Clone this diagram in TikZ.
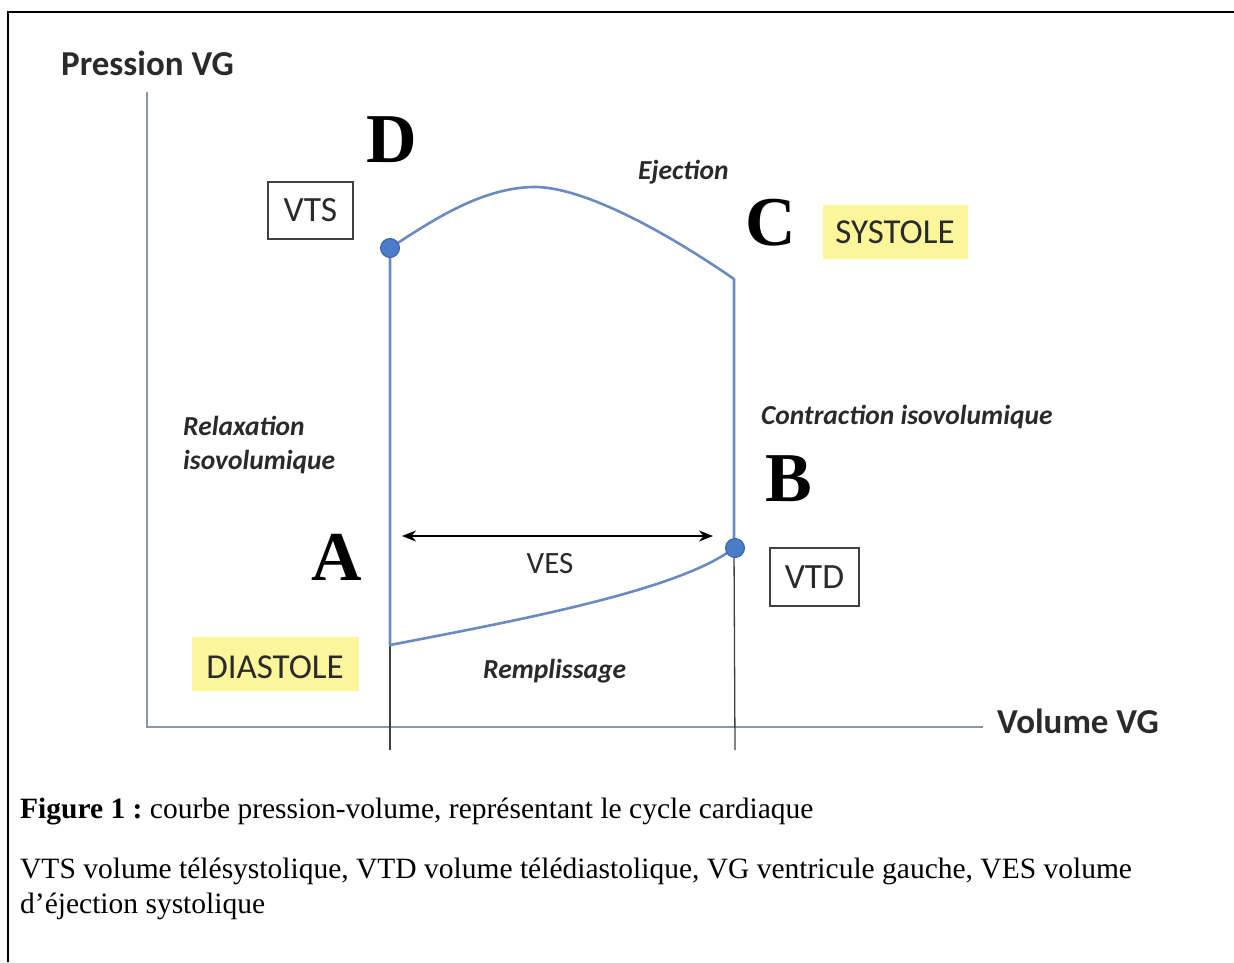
\documentclass[tikz,border=0pt]{standalone}
\usepackage{fontspec}
\setmainfont{Liberation Serif}
\newfontfamily\calibri{Carlito}
\usetikzlibrary{arrows.meta}
\frenchspacing

\definecolor{loopblue}{HTML}{6A8AC0}
\definecolor{dotblue}{HTML}{4A7CC8}
\definecolor{dotedge}{HTML}{3E63A0}
\definecolor{axisgray}{HTML}{8A96A8}
\definecolor{hilite}{HTML}{FBF59C}
\definecolor{boxgray}{HTML}{404040}
\definecolor{labelgray}{HTML}{2A2A2A}

\tikzset{
  axislabel/.style={font=\calibri\bfseries\fontsize{35}{40}\selectfont, text=labelgray, inner sep=0pt, anchor=base west},
  sanslabel/.style={font=\calibri\fontsize{35}{40}\selectfont, text=labelgray, inner sep=0pt},
  phase/.style={font=\calibri\bfseries\itshape\fontsize{27.5}{32}\selectfont, text=labelgray, inner sep=0pt, anchor=base west},
  pointletter/.style={font=\bfseries\fontsize{70}{80}\selectfont, inner sep=0pt},
  volbox/.style={draw=boxgray, line width=1.6pt, inner sep=0pt, font=\calibri\fontsize{35.5}{40}\selectfont, text=labelgray},
  season/.style={fill=hilite, draw=none},
  loopline/.style={draw=loopblue, line width=2.6pt, line join=round},
  guide/.style={draw=black!75, line width=1.3pt},
  axisline/.style={draw=axisgray, line width=2pt},
  statept/.style={circle, fill=dotblue, draw=dotedge, line width=1pt, minimum size=19pt, inner sep=0pt},
  caption/.style={font=\fontsize{29.5}{35}\selectfont, inner sep=0pt, anchor=base west},
  vesarrow/.style={draw=black, line width=1.5pt, {Stealth[length=14pt,width=11pt]}-{Stealth[length=14pt,width=11pt]}},
}

\begin{document}
\begin{tikzpicture}[x=1pt, y=-1pt]
  \useasboundingbox (0,0) rectangle (1234,962);

  % outer frame (left and top edges)
  \draw[line width=2pt] (8,962) -- (8,12) -- (1234,12);

  % axes
  \coordinate (yaxtop) at (147,92);
  \coordinate (origin) at (147,727);
  \coordinate (xaxend) at (983,727);
  \draw[axisline] (yaxtop) -- (origin) -- (xaxend);
  \node[axislabel] (plabel) at (61,75) {Pression VG};
  \node[axislabel] (vlabel) at (997,733) {Volume VG};

  % corners of the pressure-volume loop
  \coordinate (Dpt) at (390,248);
  \coordinate (Apt) at (390,645);
  \coordinate (Bpt) at (734,548);
  \coordinate (Cpt) at (734,279);
  \coordinate (Apt-foot) at (390,750);
  \coordinate (Bpt-foot) at (735,750);

  % volume guides down to the axis
  \draw[guide] (Apt) -- (Apt-foot);
  \draw[guide] (Bpt) -- (Bpt-foot);

  % the loop
  \draw[loopline] (Dpt) -- (Apt)
    .. controls (520,620) and (680,590) .. (Bpt)
    -- (Cpt)
    .. controls (660,228) and (580,186) .. (533,187)
    .. controls (480,188) and (430,222) .. (Dpt);

  \node[statept] (dotD) at (Dpt) {};
  \node[statept] (dotB) at (735,548) {};

  % stroke volume
  \coordinate (vesL) at (402,536);
  \coordinate (vesR) at (713,536);
  \draw[vesarrow] (vesL) -- (vesR);
  \node[sanslabel, font=\calibri\fontsize{31}{36}\selectfont, anchor=base] (ves) at (550,573) {VES};

  % volume boxes
  \node[volbox, minimum width=85pt, minimum height=57pt] (vts) at (310.5,210.5) {VTS};
  \node[volbox, minimum width=89pt, minimum height=58pt] (vtd) at (814.5,577) {VTD};

  % phases of the cycle
  \fill[season] (823,205) rectangle (968,259);
  \node[sanslabel, anchor=base] (systole) at (895,243) {SYSTOLE};
  \fill[season] (192,637) rectangle (359,691);
  \node[sanslabel, anchor=base] (diastole) at (275,678) {DIASTOLE};

  \node[phase] (eject) at (638,179) {Ejection};
  \node[phase] (contr) at (761,424) {Contraction isovolumique};
  \node[phase] (relax1) at (183,435) {Relaxation};
  \node[phase] (relax2) at (183,469) {isovolumique};
  \node[phase] (rempl) at (483,678) {Remplissage};

  % point letters
  \node[pointletter] (letD) at (392,140) {D};
  \node[pointletter] (letA) at (337,557) {A};
  \node[pointletter] (letB) at (789,479) {B};
  \node[pointletter] (letC) at (771,223) {C};

  % caption
  \node[caption] (cap1) at (20,818) {\textbf{Figure 1 :} courbe pression-volume, représentant le cycle cardiaque};
  \node[caption] (cap2) at (20,878) {VTS volume télésystolique, VTD volume télédiastolique, VG ventricule gauche, VES volume};
  \node[caption] (cap3) at (20,913) {d’éjection systolique};
\end{tikzpicture}
\end{document}
